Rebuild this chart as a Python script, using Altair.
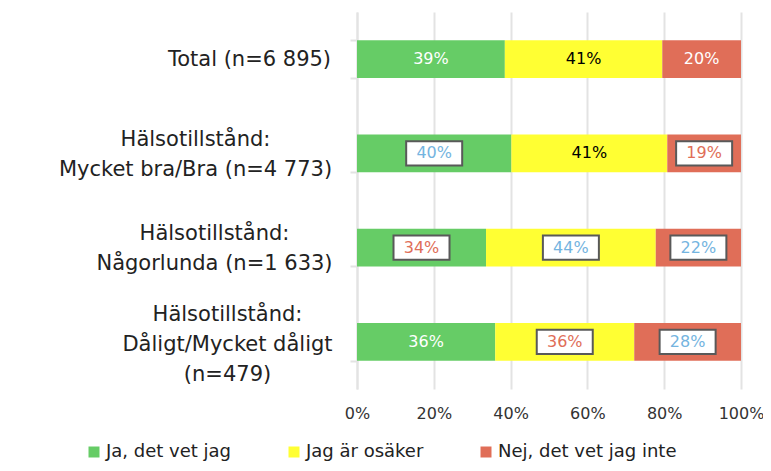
import altair as alt
import pandas as pd

categories = [
    "Total (n=6 895)",
    "Hälsotillstånd:|Mycket bra/Bra (n=4 773)",
    "Hälsotillstånd:|Någorlunda (n=1 633)",
    "Hälsotillstånd:|Dåligt/Mycket dåligt|(n=479)",
]
answers = ["Ja, det vet jag", "Jag är osäker", "Nej, det vet jag inte"]
colors = ["#66CC66", "#FFFF33", "#E06E58"]

ja = [38.5, 40.2, 33.6, 36.0]
osaker = [41.0, 40.6, 44.2, 36.2]
nej = [20.5, 19.2, 22.2, 27.8]

ja_lbl = [39, 40, 34, 36]
osaker_lbl = [41, 41, 44, 36]
nej_lbl = [20, 19, 22, 28]

# significance vs total: "hi" = higher, "lo" = lower, "" = none
ja_sig = ["", "hi", "lo", ""]
osaker_sig = ["", "", "hi", "lo"]
nej_sig = ["", "lo", "hi", "hi"]

plain_text_color = {"Ja, det vet jag": "white", "Jag är osäker": "black",
                    "Nej, det vet jag inte": "white"}
sig_color = {"hi": "#74B4E0", "lo": "#E06E58"}

rows = []
for i, cat in enumerate(categories):
    start = 0.0
    for ans, vals, lbls, sigs in zip(answers, [ja, osaker, nej],
                                     [ja_lbl, osaker_lbl, nej_lbl],
                                     [ja_sig, osaker_sig, nej_sig]):
        v = vals[i]
        s = sigs[i]
        rows.append({
            "cat": cat, "answer": ans, "start": start, "end": start + v,
            "mid": start + v / 2, "label": f"{lbls[i]}%", "sig": s,
            "tcolor": sig_color[s] if s else plain_text_color[ans],
        })
        start += v
df = pd.DataFrame(rows)

FONT = "DejaVu Sans"
GRID = "#E3E3E3"

# per-label horizontal placement (centered multi-line labels)
label_pad = [101, 155, 136, 123]
pad_cond = [{"test": f"datum.value == '{c}'", "value": p}
            for c, p in zip(categories[:3], label_pad[:3])]
# shift multi-line labels up so the block is centered on the bar
line_shift = [0, 1, 1, 3]
off_cond = [{"test": f"datum.value == '{c}'",
             "value": -15 * (len(c.split('|')) - 1) + sh}
            for c, sh in zip(categories[1:], line_shift[1:])]

y_enc = alt.Y(
    "cat:N", sort=categories, title=None,
    scale=alt.Scale(paddingInner=0.6, paddingOuter=0.3),
    axis=alt.Axis(
        domain=True, domainColor=GRID, domainWidth=2,
        ticks=True, tickBand="extent", tickColor=GRID, tickWidth=2, tickSize=7,
        labelAlign="center", labelBaseline="middle", labelLineHeight=30,
        labelFontSize=21, labelFont=FONT, labelColor="#222222", labelLimit=0,
        labelPadding={"condition": pad_cond, "value": label_pad[3]},
        labelOffset={"condition": off_cond, "value": 0},
        labelExpr="split(datum.label, '|')",
    ),
)

x_scale = alt.Scale(domain=[0, 100], nice=False)
x_axis = alt.Axis(
    values=[0, 20, 40, 60, 80, 100], labelExpr="datum.value + '%'",
    grid=True, gridColor=GRID, gridWidth=2, domain=False, ticks=False,
    labelFlush=False, labelPadding=16, labelFontSize=16, labelFont=FONT,
    labelColor="#333333", title=None,
)

bars = alt.Chart(df).mark_bar().encode(
    x=alt.X("start:Q", scale=x_scale, axis=x_axis),
    x2="end:Q",
    y=y_enc,
    color=alt.Color(
        "answer:N", sort=answers,
        scale=alt.Scale(domain=answers, range=colors),
        legend=alt.Legend(
            title=None, orient="none", direction="horizontal",
            legendX=-272, legendY=431, symbolType="square", symbolSize=121,
            symbolStrokeWidth=0, labelFontSize=18, labelFont=FONT,
            labelColor="#222222", columnPadding=53, labelOffset=3, padding=0,
            labelLimit=0,
        ),
    ),
)

box_path = "M-1,-0.43L1,-0.43L1,0.43L-1,0.43Z"
boxes = alt.Chart(df).transform_filter("datum.sig != ''").mark_point(
    shape=box_path, size=3136, filled=True, fill="white", stroke="#595959",
    strokeWidth=2, opacity=1,
).encode(
    x=alt.X("mid:Q", scale=x_scale),
    y=alt.Y("cat:N", sort=categories),
)

texts = alt.Chart(df).mark_text(
    font=FONT, fontSize=16, align="center", baseline="middle",
).encode(
    x=alt.X("mid:Q", scale=x_scale),
    y=alt.Y("cat:N", sort=categories),
    text="label:N",
    color=alt.Color("tcolor:N", scale=None, legend=None),
)

chart = alt.layer(bars, boxes, texts).resolve_scale(color="independent").properties(
    width=384, height=377,
    autosize=alt.AutoSizeParams(type="none"),
    padding={"left": 349, "top": 4, "right": 22, "bottom": 74},
    background="white",
).configure_view(stroke=None)

chart.save("out.html", embed_options={"renderer": "svg", "actions": False})
